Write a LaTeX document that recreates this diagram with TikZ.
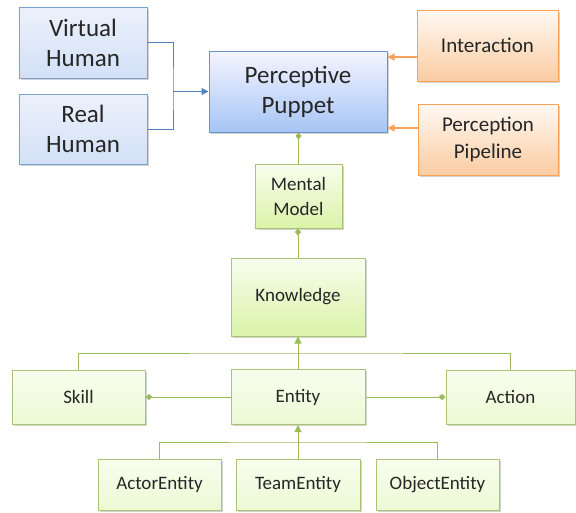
\documentclass[tikz,border=0pt]{standalone}
\usepackage{fontspec}
\setmainfont{Carlito}
\usepackage{tikz}
\usetikzlibrary{arrows.meta,shadows}
\definecolor{foreground}{RGB}{38,38,38}
\definecolor{blueline}{RGB}{79,129,189}
\definecolor{orangeline}{RGB}{249,163,90}
\definecolor{greenline}{RGB}{155,187,89}
\tikzstyle{box}=[rectangle,draw,line width=1pt,align=center,text=foreground,inner sep=2pt,
  drop shadow={shadow xshift=1.5pt,shadow yshift=-1.5pt,opacity=0.35}]
\tikzstyle{human}=[box,draw=blueline!75,top color={rgb,255:red,236;green,242;blue,252},
  bottom color={rgb,255:red,210;green,224;blue,246},font=\fontsize{25}{30}\selectfont]
\tikzstyle{puppet}=[box,draw=blueline!85,top color=blue!4,bottom color={rgb,255:red,166;green,197;blue,245},
  font=\fontsize{25}{30}\selectfont]
\tikzstyle{source}=[box,draw=orangeline,top color=orange!5,bottom color={rgb,255:red,251;green,204;blue,162},
  font=\fontsize{21}{27}\selectfont]
\tikzstyle{concept}=[box,draw=greenline!85,top color={rgb,255:red,248;green,253;blue,238},
  bottom color={rgb,255:red,218;green,243;blue,168},font=\fontsize{19}{25}\selectfont]
\tikzstyle{leaf}=[concept,bottom color={rgb,255:red,236;green,249;blue,212}]
\tikzstyle{bedge} = [draw,line width=1pt,blueline]
\tikzstyle{bdedge} = [bedge,-{Triangle[length=7pt,width=7pt]}]
\tikzstyle{odedge} = [draw,line width=1.2pt,orangeline,-{Triangle[length=7pt,width=7pt]}]
\tikzstyle{gedge} = [draw,line width=1pt,greenline]
\tikzstyle{gdedge} = [gedge,-{Triangle[length=7pt,width=7pt]}]
\tikzstyle{gdiam} = [gedge,-{Diamond[length=7pt,width=6pt]}]

\begin{document}
\begin{tikzpicture}[x=1pt,y=-1pt]
      \useasboundingbox (0,0) rectangle (576,512);

      \node[human,minimum width=128pt,minimum height=71pt] (vh) at (83,42.5) {Virtual\\Human};
      \node[human,minimum width=128pt,minimum height=70pt] (rh) at (83,129) {Real\\Human};
      \node[puppet,minimum width=178pt,minimum height=81pt] (pp) at (298,91.5) {Perceptive\\Puppet};
      \node[source,minimum width=141pt,minimum height=71pt] (inter) at (487.5,45.5) {Interaction};
      \node[source,minimum width=140pt,minimum height=71pt] (pipe) at (488,139.5) {Perception\\Pipeline};

      \node[concept,minimum width=87pt,minimum height=64pt] (mm) at (298.5,196) {Mental\\Model};
      \node[concept,minimum width=134pt,minimum height=78pt] (know) at (298,297) {Knowledge};

      \node[leaf,minimum width=133pt,minimum height=54pt] (skill) at (78.5,397) {Skill};
      \node[leaf,minimum width=134pt,minimum height=55pt] (entity) at (298,397) {Entity};
      \node[leaf,minimum width=129pt,minimum height=54pt] (action) at (510.5,397) {Action};

      \node[leaf,minimum width=123pt,minimum height=51pt] (actor) at (159.5,484.5) {ActorEntity};
      \node[leaf,minimum width=124pt,minimum height=51pt] (team) at (298,484.5) {TeamEntity};
      \node[leaf,minimum width=123pt,minimum height=51pt] (object) at (437.5,484.5) {ObjectEntity};

      % humans into the puppet
      \coordinate (hjoin) at (173,91.5);
      \path[bedge] (vh.east) -| (hjoin) |- (rh.east);
      \path[bdedge] (hjoin) -- (pp.west);

      \path[odedge] ([yshift=-11.5pt]inter.west) -- ([yshift=-11.5pt]inter.west -| pp.east);
      \path[odedge] ([yshift=11.5pt]pipe.west) -- ([yshift=11.5pt]pipe.west -| pp.east);

      % composition
      \path[gdiam] (mm.north) -- (pp.south -| mm.north);
      \path[gdiam] (know.north) -- (know.north |- mm.south);
      \path[gdiam] (entity.west) -- (skill.east);
      \path[gdiam] (entity.east) -- (action.west);

      % generalisation
      \coordinate (topbus) at (298,353);
      \path[gedge] (skill.north) |- (topbus) -| (action.north);
      \path[gdedge] (entity.north) -- (know.south);

      \coordinate (lowbus) at (298,442);
      \path[gedge] (actor.north) |- (lowbus) -| (object.north);
      \path[gdedge] (team.north) -- (entity.south);

    \end{tikzpicture}
\end{document}
